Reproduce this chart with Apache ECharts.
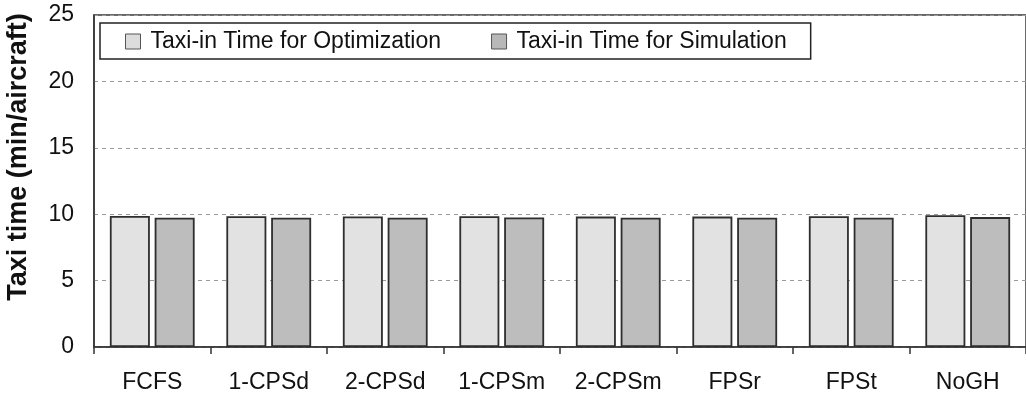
<!DOCTYPE html>
<html>
<head>
<meta charset="utf-8">
<script src="https://cdn.jsdelivr.net/npm/echarts@6/dist/echarts.min.js"></script>
<style>
  html, body { margin: 0; padding: 0; background: #fff; }
  #chart { width: 1026px; height: 398px; }
</style>
</head>
<body>
<div id="chart"></div>
<script>
// Taxi-in time per aircraft under each gate-assignment strategy
const categories = ['FCFS', '1-CPSd', '2-CPSd', '1-CPSm', '2-CPSm', 'FPSr', 'FPSt', 'NoGH'];
const optimizationTimes = [9.86, 9.84, 9.83, 9.85, 9.82, 9.82, 9.85, 9.93];
const simulationTimes = [9.74, 9.74, 9.74, 9.75, 9.73, 9.73, 9.74, 9.78];
const yTicks = [0, 5, 10, 15, 20, 25];
const yTitle = 'Taxi time (min/aircraft)';

const font = 'Liberation Sans, Arial, sans-serif';
const chart = echarts.init(document.getElementById('chart'), null, { renderer: 'canvas' });

chart.setOption({
  animation: false,
  backgroundColor: '#ffffff',
  grid: {
    left: 94, right: -10, top: 15, bottom: 51,
    show: true, borderColor: '#3a3a3a', borderWidth: 1.5
  },
  graphic: [{
    // vertical axis title, centred on (x, y) and read bottom-to-top
    type: 'text',
    x: 19, y: 157,
    rotation: Math.PI / 2,
    style: {
      text: yTitle,
      font: 'bold 27px ' + font,
      fill: '#111',
      align: 'center',
      verticalAlign: 'middle'
    }
  }],
  legend: {
    left: 100, top: 23,
    padding: [7, 24, 6, 25],
    itemGap: 50,
    itemWidth: 15, itemHeight: 15,
    borderColor: '#222', borderWidth: 1.5,
    backgroundColor: '#fff',
    icon: 'rect',
    textStyle: { fontFamily: font, fontSize: 23, lineHeight: 23, color: '#111', padding: [0, 0, 0, 5] },
    data: [
      { name: 'Taxi-in Time for Optimization', itemStyle: { color: '#dcdcdc', borderColor: '#555', borderWidth: 1 } },
      { name: 'Taxi-in Time for Simulation', itemStyle: { color: '#b8b8b8', borderColor: '#555', borderWidth: 1 } }
    ]
  },
  xAxis: {
    type: 'category',
    data: categories,
    axisLine: { lineStyle: { color: '#333', width: 1.5 } },
    axisTick: { show: true, length: 7, lineStyle: { color: '#333', width: 1.5 } },
    axisLabel: { fontFamily: font, fontSize: 23, color: '#111', margin: 24 }
  },
  yAxis: {
    type: 'value',
    min: 0, max: 25, interval: 5,
    axisLine: { show: true, lineStyle: { color: '#333', width: 1.5 } },
    axisTick: { show: false },
    axisLabel: {
      fontFamily: font, fontSize: 23, color: '#111', margin: 20,
      formatter: v => (yTicks.includes(v) ? String(v) : '')
    },
    splitLine: { show: true, lineStyle: { color: '#9a9a9a', type: [4, 4], width: 1 } }
  },
  series: [
    {
      name: 'Taxi-in Time for Optimization',
      type: 'bar',
      data: optimizationTimes,
      barWidth: 40,
      barGap: '12%',
      itemStyle: { color: '#e2e2e2', borderColor: '#2e2e2e', borderWidth: 1.8 }
    },
    {
      name: 'Taxi-in Time for Simulation',
      type: 'bar',
      data: simulationTimes,
      barWidth: 40,
      itemStyle: { color: '#bdbdbd', borderColor: '#2e2e2e', borderWidth: 1.8 }
    }
  ]
});
</script>
</body>
</html>
